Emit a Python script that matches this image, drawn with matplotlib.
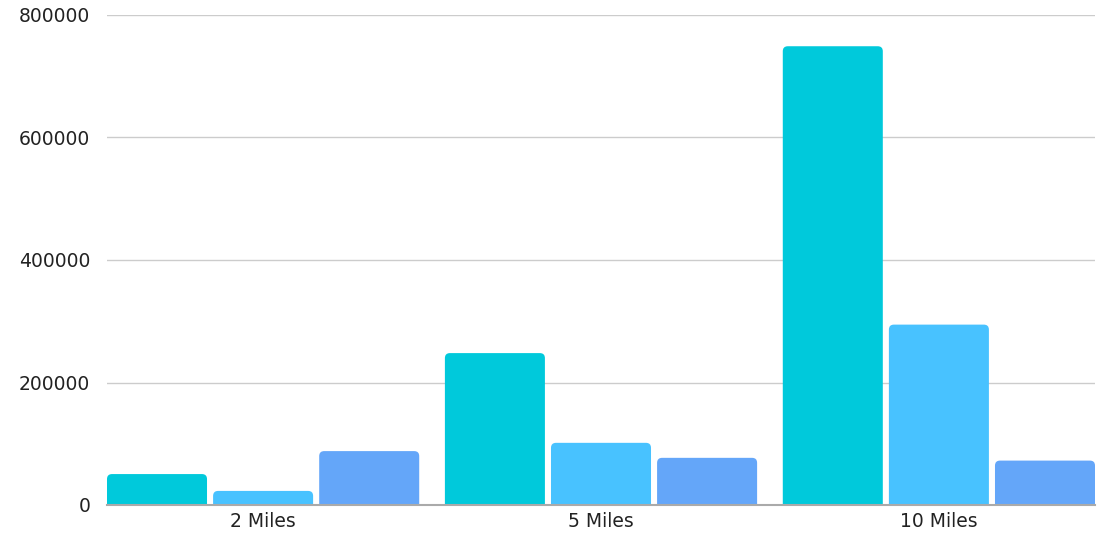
import matplotlib.pyplot as plt
import numpy as np
from matplotlib.patches import FancyBboxPatch

categories = ['2 Miles', '5 Miles', '10 Miles']
series_a = [50500, 248000, 749000]
series_b = [23000, 101500, 294500]
series_c = [88000, 77000, 72500]
y_ticks = [0, 200000, 400000, 600000, 800000]

colors = ['#00C9DB', '#48C2FF', '#64A6F9']

plt.rcParams['font.family'] = ['DejaVu Sans']

fig = plt.figure(figsize=(10.99, 5.33), dpi=100)
ax = fig.add_axes([107 / 1099, 28 / 533, 988 / 1099, 490 / 533])

x = np.arange(len(categories))
bw = 0.296
step = 0.314
ymax = 800000
xlim = (-0.462, 2.462)

# aspect so the rounded corners come out circular
px_x = (xlim[1] - xlim[0]) / 988
px_y = ymax / 490
aspect = px_y / px_x
r = 5 * px_x

for k, vals in enumerate([series_a, series_b, series_c]):
    for i, v in enumerate(vals):
        left = x[i] + (k - 1) * step - bw / 2
        p = FancyBboxPatch((left, -10 * px_y), bw, v + 10 * px_y,
                           boxstyle='round,pad=0,rounding_size=%f' % r,
                           mutation_aspect=aspect, facecolor=colors[k],
                           edgecolor='none', zorder=3)
        ax.add_patch(p)

ax.set_xlim(*xlim)
ax.set_ylim(0, ymax)
ax.set_xticks(x)
ax.set_xticklabels(categories, fontsize=13.5, color='#222222')
ax.set_yticks(y_ticks)
ax.set_yticklabels([str(t) for t in y_ticks], fontsize=13.5, color='#222222')
ax.tick_params(axis='both', length=0)
ax.tick_params(axis='y', pad=12)
ax.tick_params(axis='x', pad=5)
ax.grid(axis='y', color='#cccccc', linewidth=1, zorder=0)
for s in ['top', 'right', 'left']:
    ax.spines[s].set_visible(False)
ax.spines['bottom'].set_color('#aaaaaa')
ax.spines['bottom'].set_linewidth(1.5)
ax.spines['bottom'].set_zorder(4)

plt.savefig('out.png', dpi=100)
